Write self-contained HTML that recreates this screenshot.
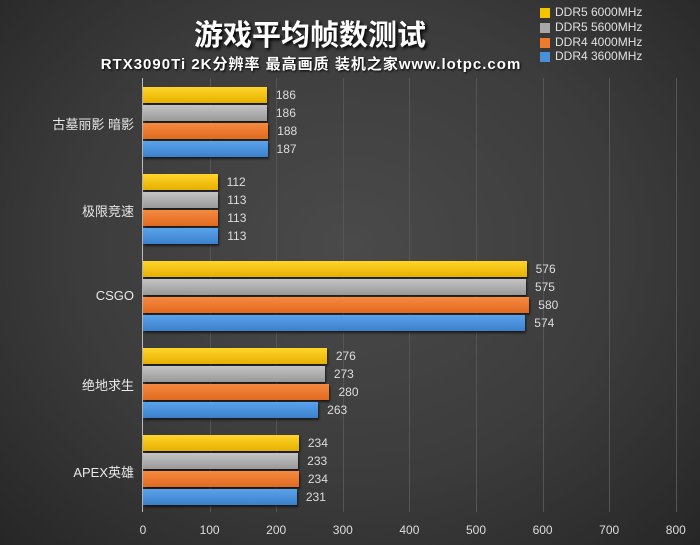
<!DOCTYPE html>
<html><head><meta charset="utf-8"><style>
body{margin:0;}
#c{position:relative;width:700px;height:545px;overflow:hidden;background:radial-gradient(ellipse at 50% 45%,#4a4a4a 0%,#3c3c3c 55%,#262626 100%);font-family:"Liberation Sans","Noto Sans CJK SC",sans-serif;color:#e6e6e6;}
.t{position:absolute;white-space:nowrap;}
.g{position:absolute;top:78px;height:434px;width:1px;background:#555;}
.b{position:absolute;height:16px;left:143px;box-shadow:1px 2px 2px rgba(0,0,0,.6);}
.v{position:absolute;font-size:12px;color:#ddd;}
.cat{position:absolute;right:566px;font-size:13px;color:#e8e8e8;white-space:nowrap;}
.ax{position:absolute;top:523px;font-size:12px;color:#ddd;width:40px;text-align:center;}
.lg{position:absolute;left:540px;width:10px;height:10px;}
.lt{position:absolute;left:555px;font-size:12px;color:#e0e0e0;}
</style></head><body><div id="c">
<div class="t" style="left:0;width:620px;text-align:center;top:12px;font-size:29px;font-weight:bold;color:#fff;text-shadow:2px 2px 3px #000;">游戏平均帧数测试</div>
<div class="t" style="left:0;width:622px;text-align:center;top:53px;font-size:15px;font-weight:bold;letter-spacing:1px;color:#fff;text-shadow:1px 1px 2px #000;">RTX3090Ti 2K分辨率 最高画质 装机之家www.lotpc.com</div>
<div class="lg" style="top:8px;background:#f5c400"></div><div class="lt" style="top:5px">DDR5 6000MHz</div>
<div class="lg" style="top:23px;background:#a8a8a8"></div><div class="lt" style="top:20px">DDR5 5600MHz</div>
<div class="lg" style="top:38px;background:#ee7a2e"></div><div class="lt" style="top:35px">DDR4 4000MHz</div>
<div class="lg" style="top:52px;background:#4a90d9"></div><div class="lt" style="top:49px">DDR4 3600MHz</div>
<div style="position:absolute;left:142px;top:78px;width:1px;height:434px;background:#bbb"></div>
</div>
<script>
(function(){
var c=document.getElementById('c');var h='';
for(var i=1;i<=8;i++){h+='<div class="g" style="left:'+(143+i*66.6)+'px"></div>';}
for(var i=0;i<=8;i++){h+='<div class="ax" style="left:'+(123+i*66.6)+'px">'+(i*100)+'</div>';}
var cats=['古墓丽影 暗影','极限竞速','CSGO','绝地求生','APEX英雄'];
var d=[[186,186,188,187],[112,113,113,113],[576,575,580,574],[276,273,280,263],[234,233,234,231]];
var col=['linear-gradient(#ffd52a,#e6b000)','linear-gradient(#c4c4c4,#999)','linear-gradient(#f58a40,#e06a20)','linear-gradient(#5aa2ea,#3c80cc)'];
for(var g=0;g<5;g++){var ty=87+g*87;
h+='<div class="cat" style="top:'+(ty+27)+'px">'+cats[g]+'</div>';
for(var k=0;k<4;k++){var w=d[g][k]*0.666;var y=ty+k*18;
h+='<div class="b" style="top:'+y+'px;width:'+w+'px;background:'+col[k]+'"></div>';
h+='<div class="v" style="top:'+(y+1)+'px;left:'+(143+w+9)+'px">'+d[g][k]+'</div>';}}
c.insertAdjacentHTML('beforeend',h);
})();
</script>
</body></html>
